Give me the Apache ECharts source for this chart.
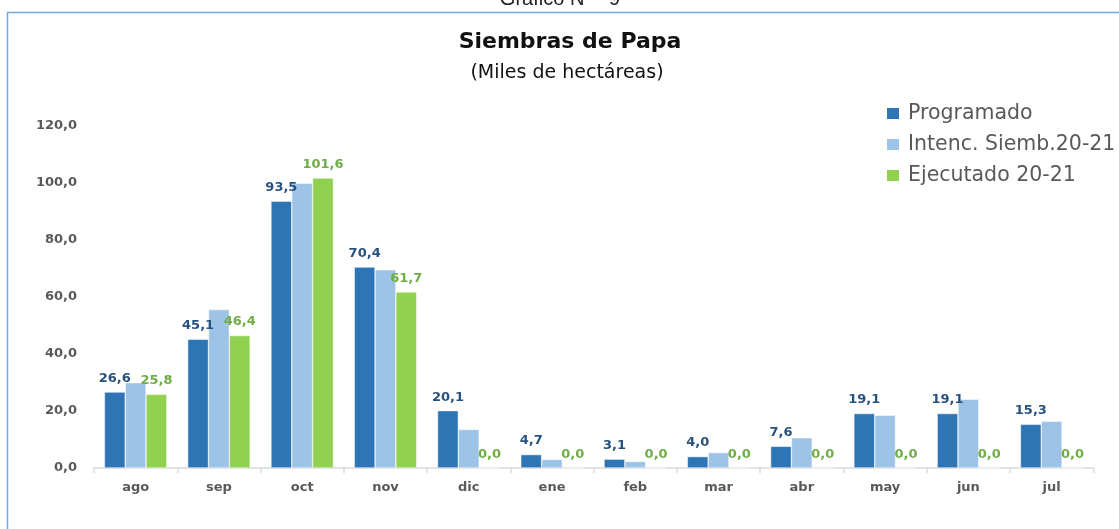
<!DOCTYPE html>
<html>
<head>
<meta charset="utf-8">
<script src="https://cdn.jsdelivr.net/npm/echarts@6/dist/echarts.min.js"></script>
<style>
html,body{margin:0;padding:0;background:#fff;}
#c{width:1119px;height:529px;}
</style>
</head>
<body>
<div id="c"></div>
<script>
var categories = ['ago','sep','oct','nov','dic','ene','feb','mar','abr','may','jun','jul'];
var programado = [26.6, 45.1, 93.5, 70.4, 20.1, 4.7, 3.1, 4.0, 7.6, 19.1, 19.1, 15.3];
var intencion = [29.9, 55.5, 99.8, 69.5, 13.5, 3.0, 2.3, 5.4, 10.6, 18.5, 24.1, 16.4];
var ejecutado = [25.8, 46.4, 101.6, 61.7, 0.0, 0.0, 0.0, 0.0, 0.0, 0.0, 0.0, 0.0];
var seriesNames = ['Programado', 'Intenc. Siemb.20-21', 'Ejecutado 20-21'];
var yTicks = [0, 20, 40, 60, 80, 100, 120];

function fmt(v){ return Number(v).toFixed(1).replace('.', ','); }

var chart = echarts.init(document.getElementById('c'));
var labelFont = 'DejaVu Sans';
chart.setOption({
  animation: false,
  backgroundColor: '#ffffff',
  graphic: [
    { type: 'text', style: { text: 'Gráfico N°   9', x: 560, y: 9, textAlign: 'center',
      textVerticalAlign: 'bottom', font: '20px "Liberation Sans"', fill: '#222' } },
    { type: 'rect', shape: { x: 7.5, y: 12.5, width: 1300, height: 700 },
      style: { fill: '#ffffff', stroke: '#74a9dd', lineWidth: 1.5 }, silent: true, z: -10 },
    { type: 'text', style: { text: 'Siembras de Papa', x: 570, y: 31, textAlign: 'center',
      textVerticalAlign: 'top', font: 'bold 22px "DejaVu Sans"', fill: '#111' } },
    { type: 'text', style: { text: '(Miles de hectáreas)', x: 567, y: 64, textAlign: 'center',
      textVerticalAlign: 'top', font: '19px "DejaVu Sans"', fill: '#111' } }
  ],
  legend: {
    orient: 'vertical',
    left: 880,
    top: 98,
    itemWidth: 14,
    itemHeight: 13,
    itemGap: 10,
    icon: 'rect',
    textStyle: { color: '#595959', fontSize: 20.5, lineHeight: 21, fontFamily: labelFont, padding: [0,0,0,3] },
    data: seriesNames
  },
  grid: { left: 94, right: 25.7, top: 125.5, bottom: 61, containLabel: false },
  xAxis: {
    type: 'category',
    data: categories,
    axisLine: { lineStyle: { color: '#d9d9d9', width: 1.5 } },
    axisTick: { show: true, alignWithLabel: false, length: 5, lineStyle: { color: '#d9d9d9', width: 1.5 } },
    axisLabel: { color: '#595959', fontWeight: 'bold', fontSize: 13, fontFamily: labelFont, margin: 13 }
  },
  yAxis: {
    type: 'value',
    min: yTicks[0],
    max: yTicks[yTicks.length - 1],
    interval: 20,
    axisLine: { show: false },
    axisTick: { show: false },
    splitLine: { show: false },
    axisLabel: { color: '#595959', fontWeight: 'bold', fontSize: 13, fontFamily: labelFont, margin: 17,
      formatter: function(v){ return fmt(v); } }
  },
  series: [
    { name: seriesNames[0], type: 'bar', data: programado, barWidth: '25%', barGap: '0%',
      itemStyle: { color: '#2e75b6', borderColor: '#ffffff', borderWidth: 0.5 },
      label: { show: true, position: 'top', distance: 7, color: '#27527f', fontWeight: 'bold',
        fontSize: 13, fontFamily: labelFont, formatter: function(p){ return fmt(p.value); } } },
    { name: seriesNames[1], type: 'bar', data: intencion, barWidth: '25%', barGap: '0%',
      itemStyle: { color: '#9dc3e6', borderColor: '#ffffff', borderWidth: 0.5 } },
    { name: seriesNames[2], type: 'bar', data: ejecutado, barWidth: '25%', barGap: '0%',
      itemStyle: { color: '#92d050', borderColor: '#ffffff', borderWidth: 0.5 },
      label: { show: true, position: 'top', distance: 7, color: '#70ad47', fontWeight: 'bold',
        fontSize: 13, fontFamily: labelFont, formatter: function(p){ return fmt(p.value); } } }
  ]
});
</script>
</body>
</html>
